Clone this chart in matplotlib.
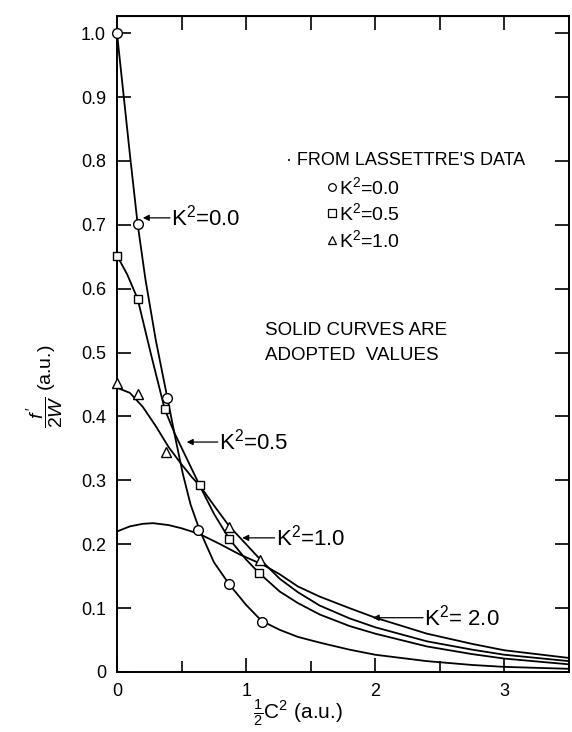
import numpy as np
import matplotlib
matplotlib.use('Agg')
import matplotlib.pyplot as plt
import matplotlib as mpl
from matplotlib import font_manager

# pick a condensed sans face if one is installed
names = set(f.name for f in font_manager.fontManager.ttflist)
family = 'Liberation Sans Narrow' if 'Liberation Sans Narrow' in names else 'Liberation Sans'
mpl.rcParams['font.family'] = [family, 'DejaVu Sans']
mpl.rcParams['mathtext.fontset'] = 'custom'
mpl.rcParams['mathtext.rm'] = family
mpl.rcParams['mathtext.it'] = family + ':italic'
mpl.rcParams['font.size'] = 14

# measured points (Lassettre's data)
k0_x = [0.0, 0.16, 0.39, 0.63, 0.87, 1.12]
k0_y = [1.0, 0.701, 0.429, 0.222, 0.137, 0.079]
k05_x = [0.0, 0.16, 0.37, 0.64, 0.87, 1.10]
k05_y = [0.652, 0.584, 0.411, 0.292, 0.208, 0.155]
k1_x = [0.0, 0.16, 0.38, 0.87, 1.11]
k1_y = [0.452, 0.436, 0.344, 0.227, 0.175]

# adopted curves
c0_x = [0.0, 0.05, 0.10, 0.16, 0.22, 0.30, 0.39, 0.45, 0.51, 0.57, 0.64, 0.75, 0.87, 1.00,
        1.12, 1.26, 1.40, 1.57, 1.80, 2.00, 2.40, 2.75, 3.00, 3.50]
c0_y = [1.0, 0.905, 0.81, 0.701, 0.615, 0.52, 0.429, 0.368, 0.31, 0.262, 0.222, 0.172, 0.137, 0.105,
        0.080, 0.066, 0.055, 0.046, 0.035, 0.027, 0.017, 0.011, 0.008, 0.005]
c05_x = [0.0, 0.08, 0.16, 0.26, 0.37, 0.45, 0.55, 0.64, 0.75, 0.87, 1.00, 1.10,
         1.26, 1.40, 1.57, 1.80, 2.00, 2.40, 2.75, 3.00, 3.50]
c05_y = [0.652, 0.622, 0.584, 0.500, 0.411, 0.372, 0.330, 0.292, 0.248, 0.208, 0.176, 0.155,
         0.126, 0.108, 0.090, 0.072, 0.060, 0.040, 0.028, 0.021, 0.012]
c1_x = [0.0, 0.10, 0.20, 0.30, 0.40, 0.50, 0.58, 0.64, 0.75, 0.87, 1.00, 1.11,
        1.26, 1.40, 1.57, 1.80, 2.00, 2.40, 2.75, 3.00, 3.50]
c1_y = [0.445, 0.437, 0.415, 0.385, 0.352, 0.325, 0.305, 0.292, 0.261, 0.228, 0.200, 0.176,
        0.146, 0.125, 0.104, 0.084, 0.070, 0.048, 0.035, 0.027, 0.017]
c2_x = [0.0, 0.10, 0.20, 0.28, 0.40, 0.50, 0.64, 0.80, 0.95, 1.13, 1.26, 1.40,
        1.57, 1.80, 2.00, 2.40, 2.75, 3.00, 3.50]
c2_y = [0.220, 0.228, 0.232, 0.233, 0.230, 0.225, 0.216, 0.200, 0.184, 0.168, 0.153, 0.134,
        0.118, 0.100, 0.085, 0.060, 0.044, 0.034, 0.022]

fig = plt.figure(figsize=(5.72, 7.32), dpi=100)
ax = fig.add_axes([117 / 572, 1 - 672 / 732, 452 / 572, 656 / 732])

lw = 1.3
for cx, cy in [(c0_x, c0_y), (c05_x, c05_y), (c1_x, c1_y), (c2_x, c2_y)]:
    ax.plot(cx, cy, color='black', linewidth=lw, solid_joinstyle='round')

mk = dict(color='black', markerfacecolor='white', linestyle='none', markeredgewidth=1.0,
          clip_on=False, zorder=5)
ax.plot(k0_x, k0_y, marker='o', markersize=7, **mk)
ax.plot(k05_x, k05_y, marker='s', markersize=6, **mk)
ax.plot(k1_x, k1_y, marker='^', markersize=6.5, **mk)

ax.set_xlim(0, 3.5)
ax.set_ylim(0, 1.027)
ax.set_xticks([0, 1, 2, 3])
ax.set_xticks([0.5, 1.5, 2.5], minor=True)
ax.set_yticks(np.arange(0, 1.01, 0.1))
ax.set_yticklabels(['0'] + ['%.1f' % v for v in np.arange(0.1, 1.01, 0.1)])
ax.tick_params(axis='both', which='major', direction='in', length=10, width=1.2,
               labelsize=13, right=True, pad=8)
ax.tick_params(axis='x', which='minor', direction='in', length=8, width=1.2)
for s in ax.spines.values():
    s.set_linewidth(1.4)

# top ticks every 0.5
top = ax.secondary_xaxis('top')
top.set_xticks([0.5, 1.0, 1.5, 2.0, 2.5, 3.0])
top.tick_params(direction='in', length=10, width=1.2, labeltop=False)

ax.set_ylabel(r"$\dfrac{f^{\,\prime}}{2W}$ (a.u.)", fontsize=14, va='center')
ax.yaxis.set_label_coords(-0.16, 0.435)
ax.set_xlabel(r"$\frac{1}{2}$C$^2$ (a.u.)", fontsize=15, va='center')
ax.xaxis.set_label_coords(0.40, -0.062)

# curve labels
arrow = dict(arrowstyle='-|>', color='black', lw=0.9, mutation_scale=9, shrinkA=0, shrinkB=0)
ax.annotate('', xy=(0.20, 0.711), xytext=(0.41, 0.711), arrowprops=arrow)
ax.text(0.42, 0.711, r'K$^2$=0.0', fontsize=16, va='center', ha='left')
ax.annotate('', xy=(0.54, 0.360), xytext=(0.78, 0.360), arrowprops=arrow)
ax.text(0.79, 0.360, r'K$^2$=0.5', fontsize=16, va='center', ha='left')
ax.annotate('', xy=(0.97, 0.210), xytext=(1.22, 0.210), arrowprops=arrow)
ax.text(1.23, 0.210, r'K$^2$=1.0', fontsize=16, va='center', ha='left')
ax.annotate('', xy=(1.98, 0.085), xytext=(2.37, 0.085), arrowprops=arrow)
ax.text(2.38, 0.085, r'K$^2$= 2.0', fontsize=16, va='center', ha='left')

# legend block
ax.text(1.31, 0.801, "· FROM LASSETTRE'S DATA", fontsize=13, va='center', ha='left')
leg_y = [0.759, 0.718, 0.676]
leg_m = ['o', 's', '^']
leg_t = [r'K$^2$=0.0', r'K$^2$=0.5', r'K$^2$=1.0']
for yy, m, t in zip(leg_y, leg_m, leg_t):
    ax.plot([1.665], [yy], marker=m, markersize=5.5, color='black', markerfacecolor='white',
            markeredgewidth=0.9, linestyle='none')
    ax.text(1.72, yy, t, fontsize=14, va='center', ha='left')

ax.text(1.145, 0.535, 'SOLID CURVES ARE', fontsize=13.5, va='center', ha='left')
ax.text(1.145, 0.496, 'ADOPTED  VALUES', fontsize=13.5, va='center', ha='left')

fig.savefig('out.png', dpi=100)
